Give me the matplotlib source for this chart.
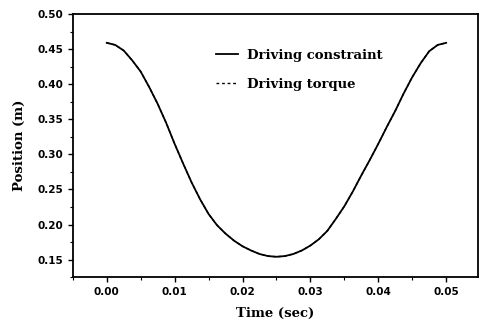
import numpy as np
import matplotlib
matplotlib.use('Agg')
import matplotlib.pyplot as plt
from matplotlib.ticker import MultipleLocator

# values
time = [0.0, 0.00125, 0.0025, 0.00375, 0.005, 0.00625, 0.0075, 0.00875, 0.01, 0.01125,
        0.0125, 0.01375, 0.015, 0.01625, 0.0175, 0.01875, 0.02, 0.02125, 0.0225, 0.02375,
        0.025, 0.02625, 0.0275, 0.02875, 0.03, 0.03125, 0.0325, 0.03375, 0.035, 0.03625,
        0.0375, 0.03875, 0.04, 0.04125, 0.0425, 0.04375, 0.045, 0.04625, 0.0475, 0.04875, 0.05]
pos_constraint = [0.459, 0.456, 0.448, 0.434, 0.418, 0.396, 0.372, 0.345, 0.315, 0.287,
                  0.260, 0.236, 0.215, 0.199, 0.187, 0.177, 0.169, 0.163, 0.158, 0.155,
                  0.154, 0.155, 0.158, 0.163, 0.170, 0.179, 0.191, 0.208, 0.226, 0.247,
                  0.270, 0.292, 0.315, 0.339, 0.362, 0.387, 0.410, 0.430, 0.447, 0.456, 0.459]
pos_torque = list(pos_constraint)  # the two curves lie on top of each other

serif = ['DejaVu Serif']

fig = plt.figure(figsize=(4.79, 3.2), dpi=100)
ax = fig.add_axes([0.152, 0.134, 0.846, 0.822])

ax.plot(time, pos_torque, color='black', lw=1.0, ls=(0, (2, 2)), label='Driving torque')
ax.plot(time, pos_constraint, color='black', lw=1.3, label='Driving constraint')

ax.set_xlim(-0.005, 0.0547)
ax.set_ylim(0.125, 0.50)
ax.xaxis.set_major_locator(MultipleLocator(0.01))
ax.xaxis.set_minor_locator(MultipleLocator(0.005))
ax.yaxis.set_major_locator(MultipleLocator(0.05))
ax.yaxis.set_minor_locator(MultipleLocator(0.025))
ax.tick_params(which='major', direction='out', length=3.5, width=1.0, labelsize=7.5)
ax.tick_params(which='minor', direction='out', length=2, width=0.8)
for lab in ax.get_xticklabels() + ax.get_yticklabels():
    lab.set_fontweight('bold')
ax.xaxis.set_major_formatter(plt.FormatStrFormatter('%.2f'))
ax.yaxis.set_major_formatter(plt.FormatStrFormatter('%.2f'))
for s in ax.spines.values():
    s.set_linewidth(1.3)

ax.set_xlabel('Time (sec)', family=serif, fontweight='bold', fontsize=9.5, labelpad=7)
ax.set_ylabel('Position (m)', family=serif, fontweight='bold', fontsize=9.5, labelpad=8)

h, l = ax.get_legend_handles_labels()
leg = ax.legend(h[::-1], l[::-1], loc='upper left', bbox_to_anchor=(0.323, 0.913),
                frameon=False, handlelength=1.7, handletextpad=0.7, labelspacing=1.2,
                prop={'family': serif, 'weight': 'bold', 'size': 9.5})

fig.savefig('out.png', dpi=100)
